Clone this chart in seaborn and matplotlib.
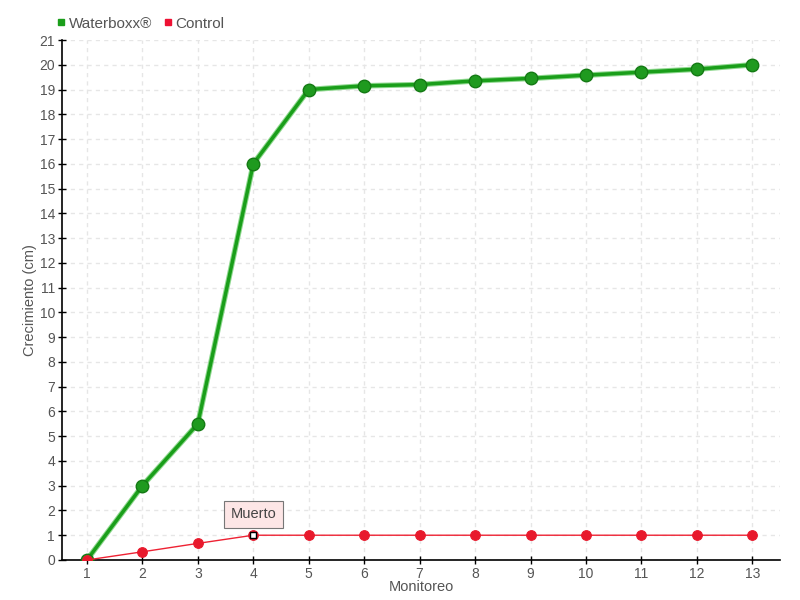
import pandas as pd
import seaborn as sns
import matplotlib.pyplot as plt
from matplotlib.lines import Line2D

monitoreo = list(range(1, 14))
waterboxx = [0, 3, 5.5, 16, 19, 19.15, 19.2, 19.35, 19.45, 19.58, 19.7, 19.82, 20]
control = [0, 0.33, 0.67, 1, 1, 1, 1, 1, 1, 1, 1, 1, 1]

sns.set_style("white")
plt.rcParams['font.family'] = ['Liberation Sans', 'DejaVu Sans']

txt = "#555555"
fig = plt.figure(figsize=(8, 6), dpi=100)
ax = fig.add_axes([0.0775, 0.0667, 0.8975, 0.8666])

df = pd.DataFrame({"Monitoreo": monitoreo, "Waterboxx": waterboxx, "Control": control})

# shadow under the green line
ax.plot(df["Monitoreo"], df["Waterboxx"], color="#8fd88f", lw=4, zorder=2,
        solid_capstyle="round", solid_joinstyle="round")
sns.lineplot(data=df, x="Monitoreo", y="Waterboxx", ax=ax, color="#1a9e1a", lw=2.5,
             marker="o", markersize=9, markerfacecolor="#1f9a1f",
             markeredgecolor="#147a14", markeredgewidth=1, zorder=3)
sns.lineplot(data=df, x="Monitoreo", y="Control", ax=ax, color="#ee2233", lw=1,
             marker="o", markersize=7, markerfacecolor="#e8192c",
             markeredgecolor="#e8192c", zorder=4)
# "Muerto" point
ax.plot(monitoreo[3], control[3], marker="s", ms=4, mfc="white", mec="black", mew=1, zorder=5)
ax.annotate("Muerto", (monitoreo[3], control[3]), xytext=(0, 15), textcoords="offset points",
            ha="center", va="center", fontsize=10.5, color="#444444",
            bbox=dict(boxstyle="square,pad=0.45", fc="#fde6e6", ec="#777777", lw=0.8),
            zorder=6)

ax.set_xlim(0.55, 13.5)
ax.set_ylim(0, 21)
ax.set_xticks(monitoreo)
ax.set_yticks(range(0, 22))
ax.grid(True, color="#e6e6e6", ls=(0, (3, 3)), lw=1)
for s in ["top", "right"]:
    ax.spines[s].set_visible(False)
for s in ["left", "bottom"]:
    ax.spines[s].set_color("black")
    ax.spines[s].set_linewidth(1.2)
ax.tick_params(direction="inout", length=6, width=1, colors="black", pad=2,
               labelcolor=txt, labelsize=10, left=True, bottom=True)
ax.set_xlabel("Monitoreo", color=txt, fontsize=10.5, labelpad=-1)
ax.set_ylabel("Crecimiento (cm)", color=txt, fontsize=10.5, labelpad=2)

handles = [Line2D([], [], ls="", marker="s", ms=5, color="#1a9e1a"),
           Line2D([], [], ls="", marker="s", ms=5, color="#ee1133")]
fig.legend(handles, ["Waterboxx®", "Control"], loc="upper left", bbox_to_anchor=(0.052, 0.995),
           ncol=2, frameon=False, fontsize=11, handletextpad=0.1, columnspacing=0.6,
           labelcolor=txt, handlelength=0.8)

fig.savefig("out.png", dpi=100)
